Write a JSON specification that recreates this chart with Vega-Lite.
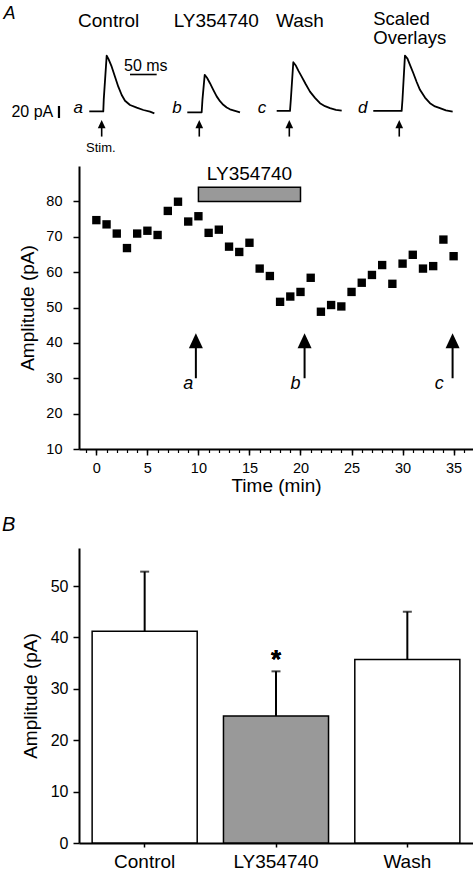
{
  "$schema": "https://vega.github.io/schema/vega-lite/v6.json",
  "autosize": {"type": "pad"},
  "padding": {"left": 2, "top": 5, "right": 0, "bottom": 0},
  "config": {
    "font": "Liberation Sans",
    "view": {"stroke": null},
    "axis": {"domainColor": "black", "tickColor": "black", "labelColor": "black", "titleColor": "black", "domainWidth": 2, "tickWidth": 1.5, "grid": false, "titleFontWeight": "normal", "labelFont": "Liberation Sans", "titleFont": "Liberation Sans"},
    "text": {"font": "Liberation Sans", "color": "black"},
    "title": {"font": "Liberation Sans", "color": "black"}
  },
  "datasets": {
    "traces": [
      {"trace": "a", "t": 19.3, "pA": 0}, {"trace": "a", "t": 45.6, "pA": 0}, {"trace": "a", "t": 46.5, "pA": 20}, {"trace": "a", "t": 52.0, "pA": 93}, {"trace": "a", "t": 55.5, "pA": 87}, {"trace": "a", "t": 61.4, "pA": 74.5}, {"trace": "a", "t": 67.6, "pA": 57.8}, {"trace": "a", "t": 73.8, "pA": 41.2}, {"trace": "a", "t": 80.2, "pA": 27.3}, {"trace": "a", "t": 86.4, "pA": 17.8}, {"trace": "a", "t": 95.8, "pA": 10.7}, {"trace": "a", "t": 108.4, "pA": 6.2}, {"trace": "a", "t": 120.9, "pA": 2.3}, {"trace": "a", "t": 133.4, "pA": -0.5}, {"trace": "a", "t": 141.5, "pA": -3.2},
      {"trace": "b", "t": 203.4, "pA": -1.5}, {"trace": "b", "t": 230.4, "pA": -1.5}, {"trace": "b", "t": 231.9, "pA": 20}, {"trace": "b", "t": 236.1, "pA": 61}, {"trace": "b", "t": 240.4, "pA": 56}, {"trace": "b", "t": 246.0, "pA": 47}, {"trace": "b", "t": 252.2, "pA": 36}, {"trace": "b", "t": 258.6, "pA": 25}, {"trace": "b", "t": 264.8, "pA": 17}, {"trace": "b", "t": 271.0, "pA": 11}, {"trace": "b", "t": 277.4, "pA": 6.5}, {"trace": "b", "t": 283.6, "pA": 3.5}, {"trace": "b", "t": 293.0, "pA": 1}, {"trace": "b", "t": 302.4, "pA": -1.5},
      {"trace": "c", "t": 371.3, "pA": 0.8}, {"trace": "c", "t": 396.3, "pA": 0.8}, {"trace": "c", "t": 397.8, "pA": 19}, {"trace": "c", "t": 402.5, "pA": 82}, {"trace": "c", "t": 407.5, "pA": 76}, {"trace": "c", "t": 412.2, "pA": 67.5}, {"trace": "c", "t": 418.2, "pA": 58}, {"trace": "c", "t": 425.4, "pA": 46}, {"trace": "c", "t": 433.8, "pA": 33}, {"trace": "c", "t": 443.2, "pA": 22.5}, {"trace": "c", "t": 452.6, "pA": 13.7}, {"trace": "c", "t": 462.0, "pA": 8.7}, {"trace": "c", "t": 471.4, "pA": 5.3}, {"trace": "c", "t": 482.6, "pA": 2.5}, {"trace": "c", "t": 493.4, "pA": 1.3},
      {"trace": "d", "t": 552.7, "pA": 0.8}, {"trace": "d", "t": 606.0, "pA": 0.8}, {"trace": "d", "t": 607.5, "pA": 19}, {"trace": "d", "t": 612.2, "pA": 93}, {"trace": "d", "t": 616.9, "pA": 88}, {"trace": "d", "t": 621.6, "pA": 77.5}, {"trace": "d", "t": 627.8, "pA": 64}, {"trace": "d", "t": 634.2, "pA": 49}, {"trace": "d", "t": 640.4, "pA": 36}, {"trace": "d", "t": 649.8, "pA": 23}, {"trace": "d", "t": 659.2, "pA": 13.7}, {"trace": "d", "t": 668.6, "pA": 8.3}, {"trace": "d", "t": 677.9, "pA": 5.3}, {"trace": "d", "t": 689.2, "pA": 1.7}, {"trace": "d", "t": 701.8, "pA": -0.3}
    ],
    "stim": [{"t": 42.6}, {"t": 225.9}, {"t": 395.0}, {"t": 601.5}],
    "titles": [
      {"label": "Control", "t": 55.8, "pA": 141.2},
      {"label": "LY354740", "t": 257.8, "pA": 141.2},
      {"label": "Wash", "t": 415.0, "pA": 141.2}
    ],
    "titlesLeft": [
      {"label": "Scaled\nOverlays", "t": 552.7, "pA": 143.5}
    ],
    "sweeps": [
      {"label": "a", "t": -1.3, "pA": -2},
      {"label": "b", "t": 184.0, "pA": -2},
      {"label": "c", "t": 343.7, "pA": -2},
      {"label": "d", "t": 533.0, "pA": -2}
    ],
    "amplitude": [
      {"time": 0, "amp": 74.7}, {"time": 1, "amp": 73.5}, {"time": 2, "amp": 70.9}, {"time": 3, "amp": 66.8}, {"time": 4, "amp": 70.9}, {"time": 5, "amp": 71.7}, {"time": 6, "amp": 70.5}, {"time": 7, "amp": 77.3}, {"time": 8, "amp": 79.9}, {"time": 9, "amp": 74.3}, {"time": 10, "amp": 75.8}, {"time": 11, "amp": 71.1}, {"time": 12, "amp": 72.0}, {"time": 13, "amp": 67.2}, {"time": 14, "amp": 65.7}, {"time": 15, "amp": 68.3}, {"time": 16, "amp": 61.0}, {"time": 17, "amp": 58.9}, {"time": 18, "amp": 51.6}, {"time": 19, "amp": 53.1}, {"time": 20, "amp": 54.4}, {"time": 21, "amp": 58.4}, {"time": 22, "amp": 48.8}, {"time": 23, "amp": 50.7}, {"time": 24, "amp": 50.3}, {"time": 25, "amp": 54.4}, {"time": 26, "amp": 57.0}, {"time": 27, "amp": 59.2}, {"time": 28, "amp": 62.0}, {"time": 29, "amp": 56.7}, {"time": 30, "amp": 62.4}, {"time": 31, "amp": 64.9}, {"time": 32, "amp": 61.0}, {"time": 33, "amp": 61.7}, {"time": 34, "amp": 69.2}, {"time": 35, "amp": 64.5}
    ],
    "drug": [{"drug": "LY354740", "start": 10, "end": 20}],
    "samples": [{"sample": "a", "time": 9.75}, {"sample": "b", "time": 20.4}, {"sample": "c", "time": 34.9}],
    "sampleLabels": [{"sample": "a", "time": 9.0}, {"sample": "b", "time": 19.5}, {"sample": "c", "time": 33.6}],
    "summary": [
      {"condition": "Control", "mean": 41.2, "sem": 11.6},
      {"condition": "LY354740", "mean": 24.7, "sem": 8.7},
      {"condition": "Wash", "mean": 35.7, "sem": 9.3}
    ]
  },
  "bounds": "flush",
  "spacing": 99,
  "vconcat": [
    {
      "width": 394,
      "height": 40,
      "layer": [
        {
          "data": {"name": "traces"},
          "mark": {"type": "line", "color": "black", "strokeJoin": "round"},
          "encoding": {
            "x": {"field": "t", "type": "quantitative", "scale": {"domain": [0, 740], "nice": false, "zero": false}, "axis": null},
            "y": {"field": "pA", "type": "quantitative", "scale": {"domain": [74, 140.7], "nice": false, "zero": false}, "axis": null},
            "detail": {"field": "trace"},
            "strokeWidth": {"field": "trace", "type": "nominal", "scale": {"domain": ["a", "b", "c", "d"], "range": [1.8, 1.8, 1.8, 2.8]}, "legend": null}
          }
        },
        {
          "data": {"name": "stim"},
          "mark": {"type": "rule", "color": "black", "strokeWidth": 1.6},
          "encoding": {
            "x": {"field": "t", "type": "quantitative"},
            "y": {"datum": -42, "type": "quantitative"},
            "y2": {"datum": -25}
          }
        },
        {
          "data": {"name": "stim"},
          "mark": {"type": "point", "shape": "M0,-1L0.7,0.5L-0.7,0.5Z", "filled": true, "color": "black", "opacity": 1, "size": 121},
          "encoding": {
            "x": {"field": "t", "type": "quantitative"},
            "y": {"datum": -23.5, "type": "quantitative"}
          }
        },
        {
          "data": {"name": "titles"},
          "mark": {"type": "text", "fontSize": 19, "align": "center", "baseline": "alphabetic"},
          "encoding": {
            "x": {"field": "t", "type": "quantitative"},
            "y": {"field": "pA", "type": "quantitative"},
            "text": {"field": "label"}
          }
        },
        {
          "data": {"name": "titlesLeft"},
          "mark": {"type": "text", "fontSize": 18.5, "align": "left", "baseline": "alphabetic", "lineBreak": "\n", "lineHeight": 19},
          "encoding": {
            "x": {"field": "t", "type": "quantitative"},
            "y": {"field": "pA", "type": "quantitative"},
            "text": {"field": "label"}
          }
        },
        {
          "data": {"name": "sweeps"},
          "mark": {"type": "text", "fontSize": 17, "fontStyle": "italic", "align": "center", "baseline": "alphabetic"},
          "encoding": {
            "x": {"field": "t", "type": "quantitative"},
            "y": {"field": "pA", "type": "quantitative"},
            "text": {"field": "label"}
          }
        },
        {
          "data": {"values": [{}]},
          "mark": {"type": "rule", "color": "black", "strokeWidth": 2.2},
          "encoding": {
            "x": {"datum": -37.6, "type": "quantitative"},
            "y": {"datum": 9, "type": "quantitative"},
            "y2": {"datum": -11}
          }
        },
        {
          "data": {"values": [{}]},
          "mark": {"type": "text", "text": "20 pA", "fontSize": 16, "align": "right", "baseline": "alphabetic"},
          "encoding": {
            "x": {"datum": -48.3, "type": "quantitative"},
            "y": {"datum": -10.2, "type": "quantitative"}
          }
        },
        {
          "data": {"values": [{}]},
          "mark": {"type": "rule", "color": "black", "strokeWidth": 1.6},
          "encoding": {
            "x": {"datum": 95.8, "type": "quantitative"},
            "x2": {"datum": 145.9},
            "y": {"datum": 61.5, "type": "quantitative"}
          }
        },
        {
          "data": {"values": [{}]},
          "mark": {"type": "text", "text": "50 ms", "fontSize": 16, "align": "center", "baseline": "alphabetic"},
          "encoding": {
            "x": {"datum": 125.4, "type": "quantitative"},
            "y": {"datum": 66.5, "type": "quantitative"}
          }
        },
        {
          "data": {"values": [{}]},
          "mark": {"type": "text", "text": "Stim.", "fontSize": 13, "align": "center", "baseline": "alphabetic"},
          "encoding": {
            "x": {"datum": 40.9, "type": "quantitative"},
            "y": {"datum": -67.2, "type": "quantitative"}
          }
        },
        {
          "data": {"values": [{}]},
          "mark": {"type": "text", "text": "A", "fontSize": 18, "fontStyle": "italic", "align": "center", "baseline": "alphabetic"},
          "encoding": {
            "x": {"datum": -130.5, "type": "quantitative"},
            "y": {"datum": 153.5, "type": "quantitative"}
          }
        }
      ]
    },
    {
      "width": 394,
      "height": 283,
      "resolve": {"axis": {"x": "independent", "y": "independent"}},
      "layer": [
        {
          "data": {"name": "drug"},
          "mark": {"type": "rect", "fill": "#999999", "stroke": "black", "strokeWidth": 1.5},
          "encoding": {
            "x": {"field": "start", "type": "quantitative", "scale": {"domain": [-1.7, 36.9], "nice": false, "zero": false}, "axis": null},
            "x2": {"field": "end"},
            "y": {"datum": 80, "type": "quantitative", "scale": {"domain": [10, 90], "nice": false, "zero": false}, "axis": null},
            "y2": {"datum": 84}
          }
        },
        {
          "data": {"name": "drug"},
          "mark": {"type": "text", "fontSize": 19, "align": "center", "baseline": "alphabetic"},
          "encoding": {
            "x": {"datum": 15, "type": "quantitative", "axis": null},
            "y": {"datum": 86, "type": "quantitative", "axis": null},
            "text": {"field": "drug"}
          }
        },
        {
          "data": {"name": "amplitude"},
          "mark": {"type": "point", "opacity": 0},
          "encoding": {
            "x": {"field": "time", "type": "quantitative", "axis": {"orient": "bottom", "values": [-1, 0, 1, 2, 3, 4, 5, 6, 7, 8, 9, 10, 11, 12, 13, 14, 15, 16, 17, 18, 19, 20, 21, 22, 23, 24, 25, 26, 27, 28, 29, 30, 31, 32, 33, 34, 35, 36], "labels": false, "domain": false, "title": null, "tickSize": 3.5, "tickWidth": 1.2}},
            "y": {"field": "amp", "type": "quantitative", "axis": null}
          }
        },
        {
          "data": {"name": "amplitude"},
          "mark": {"type": "point", "shape": "square", "filled": true, "color": "black", "opacity": 1, "size": 70},
          "encoding": {
            "x": {"field": "time", "type": "quantitative", "axis": {"orient": "bottom", "values": [0, 5, 10, 15, 20, 25, 30, 35], "title": "Time (min)", "tickSize": 6, "labelFontSize": 14.5, "labelPadding": 6, "titleFontSize": 19, "titlePadding": 2}},
            "y": {"field": "amp", "type": "quantitative", "axis": {"orient": "left", "values": [10, 20, 30, 40, 50, 60, 70, 80], "title": "Amplitude (pA)", "tickSize": 6, "labelFontSize": 14.5, "labelPadding": 11, "titleFontSize": 19, "titlePadding": 8}}
          }
        },
        {
          "data": {"name": "samples"},
          "mark": {"type": "rule", "color": "black", "strokeWidth": 2},
          "encoding": {
            "x": {"field": "time", "type": "quantitative", "axis": null},
            "y": {"datum": 30, "type": "quantitative", "axis": null},
            "y2": {"datum": 39}
          }
        },
        {
          "data": {"name": "samples"},
          "mark": {"type": "point", "shape": "M0,-1L0.7,0.5L-0.7,0.5Z", "filled": true, "color": "black", "opacity": 1, "size": 400},
          "encoding": {
            "x": {"field": "time", "type": "quantitative", "axis": null},
            "y": {"datum": 39.9, "type": "quantitative", "axis": null}
          }
        },
        {
          "data": {"name": "sampleLabels"},
          "mark": {"type": "text", "fontSize": 18, "fontStyle": "italic", "align": "center", "baseline": "alphabetic"},
          "encoding": {
            "x": {"field": "time", "type": "quantitative", "axis": null},
            "y": {"datum": 27.1, "type": "quantitative", "axis": null},
            "text": {"field": "sample"}
          }
        }
      ]
    },
    {
      "width": 394,
      "height": 295,
      "title": {"text": "B", "anchor": "start", "frame": "group", "dx": -77, "offset": -3, "baseline": "alphabetic", "fontSize": 20, "fontStyle": "italic", "fontWeight": "normal"},
      "data": {"name": "summary"},
      "resolve": {"axis": {"x": "independent", "y": "independent"}},
      "layer": [
        {
          "mark": {"type": "errorbar", "ticks": true, "size": 9, "thickness": 2, "color": "black"},
          "encoding": {
            "x": {"field": "condition", "type": "nominal", "sort": null, "axis": null},
            "y": {"field": "mean", "type": "quantitative", "axis": null},
            "yError": {"field": "sem"}
          }
        },
        {
          "mark": {"type": "bar", "stroke": "black", "strokeWidth": 1.5},
          "encoding": {
            "x": {"field": "condition", "type": "nominal", "sort": null, "scale": {"paddingInner": 0.2, "paddingOuter": 0.1}, "axis": {"orient": "bottom", "title": null, "labelAngle": 0, "labelFontSize": 19, "tickSize": 4, "labelPadding": 5}},
            "y": {"field": "mean", "type": "quantitative", "scale": {"domain": [0, 57.4], "nice": false}, "axis": {"orient": "left", "values": [0, 10, 20, 30, 40, 50], "title": "Amplitude (pA)", "tickSize": 6, "labelFontSize": 16, "labelPadding": 5, "titleFontSize": 19, "titlePadding": 10}},
            "fill": {"field": "condition", "type": "nominal", "scale": {"domain": ["Control", "LY354740", "Wash"], "range": ["white", "#999999", "white"]}, "legend": null}
          }
        },
        {
          "mark": {"type": "text", "text": "*", "fontSize": 26, "fontWeight": "bold", "align": "center", "baseline": "alphabetic"},
          "encoding": {
            "x": {"datum": "LY354740", "type": "nominal", "axis": null},
            "y": {"datum": 34.1, "type": "quantitative", "axis": null}
          }
        }
      ]
    }
  ]
}
